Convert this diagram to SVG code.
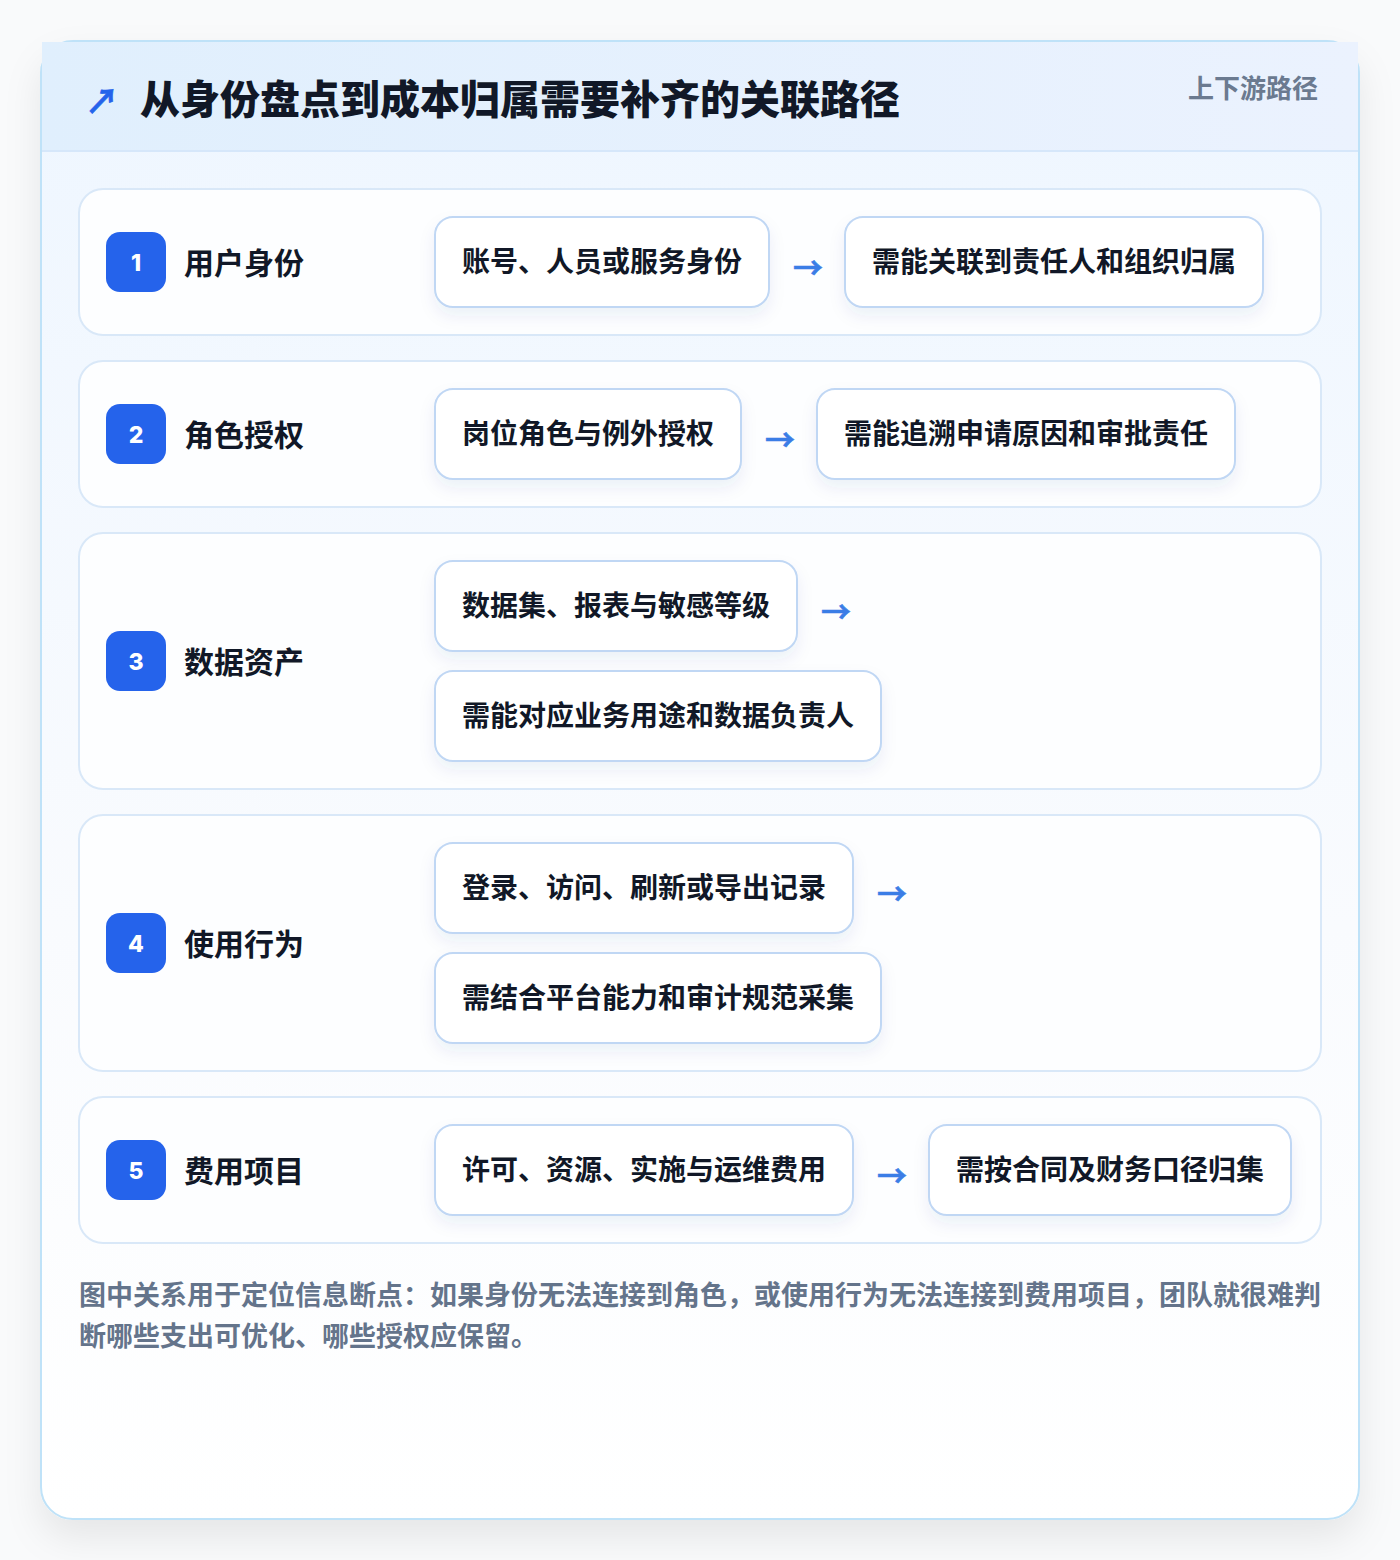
<svg xmlns="http://www.w3.org/2000/svg" width="1400" height="1560" viewBox="0 0 1400 1560">
<defs>
<linearGradient id="cardBg" x1="0" y1="0" x2="0" y2="1">
<stop offset="0" stop-color="#eef6ff"/>
<stop offset="0.6" stop-color="#f9fbfe"/>
<stop offset="1" stop-color="#ffffff"/>
</linearGradient>
<linearGradient id="headBg" x1="0" y1="0" x2="1" y2="0">
<stop offset="0" stop-color="#e0effd"/>
<stop offset="1" stop-color="#ebf2fe"/>
</linearGradient>
<filter id="cardShadow" x="-10%" y="-10%" width="120%" height="125%">
<feDropShadow dx="0" dy="18" stdDeviation="18" flood-color="#0f172a" flood-opacity="0.08"/>
</filter>
<filter id="boxShadow" x="-10%" y="-20%" width="120%" height="160%">
<feDropShadow dx="0" dy="8" stdDeviation="8" flood-color="#1e3a8a" flood-opacity="0.07"/>
</filter>
<style>
text{font-family:"Noto Sans CJK SC","Noto Sans",sans-serif;font-weight:700}
.title{font-size:40px;fill:#111827;font-weight:800}
.tag{font-size:26px;fill:#6b7a90}
.row{fill:#fdfeff;stroke:#d9e8f8;stroke-width:2}
.badge{fill:#2563eb}
.num{font-family:Inter,"Noto Sans",sans-serif;font-size:23px;fill:#ffffff;font-weight:800;text-anchor:middle}
.lbl{font-size:30px;fill:#111827}
.box{fill:#ffffff;stroke:#c0d7f4;stroke-width:2;filter:url(#boxShadow)}
.bt{font-size:28px;fill:#111827}
.arr{font-size:30px;fill:#3b7de6;text-anchor:middle;font-weight:700;stroke:#3b7de6;stroke-width:0.6}
.foot{font-size:27px;fill:#64748b}
</style>
</defs>
<rect x="0" y="0" width="1400" height="1560" fill="#f9fafb"/>
<g id="card">
<rect x="41" y="41" width="1318" height="1478" rx="32" fill="url(#cardBg)" stroke="#bfe2f8" stroke-width="2" filter="url(#cardShadow)"/>
<rect x="42" y="42" width="1316" height="109" fill="url(#headBg)"/>
<line x1="42" y1="151" x2="1358" y2="151" stroke="#d6e7fa" stroke-width="2"/>
<text x="102" y="114" font-size="34" fill="#2563eb" stroke="#2563eb" stroke-width="0.6" text-anchor="middle" style="font-weight:700">↗</text>
<text class="title" x="140" y="114">从身份盘点到成本归属需要补齐的关联路径</text>
<text class="tag" x="1318" y="98" text-anchor="end">上下游路径</text>
</g>
<g id="row1">
<rect class="row" x="79" y="189" width="1242" height="146" rx="24"/>
<rect class="badge" x="106" y="232" width="60" height="60" rx="14"/>
<text class="num" x="136" y="271">1</text>
<text class="lbl" x="184" y="274">用户身份</text>
</g>
<g id="row1-a"><rect class="box" x="435" y="217" width="334" height="90" rx="18"/><text class="bt" x="462" y="272">账号、人员或服务身份</text></g>
<g id="row1-b"><rect class="box" x="845" y="217" width="418" height="90" rx="18"/><text class="bt" x="872" y="272">需能关联到责任人和组织归属</text></g>
<g id="row2">
<rect class="row" x="79" y="361" width="1242" height="146" rx="24"/>
<rect class="badge" x="106" y="404" width="60" height="60" rx="14"/>
<text class="num" x="136" y="443">2</text>
<text class="lbl" x="184" y="446">角色授权</text>
</g>
<g id="row2-a"><rect class="box" x="435" y="389" width="306" height="90" rx="18"/><text class="bt" x="462" y="444">岗位角色与例外授权</text></g>
<g id="row2-b"><rect class="box" x="817" y="389" width="418" height="90" rx="18"/><text class="bt" x="844" y="444">需能追溯申请原因和审批责任</text></g>
<g id="row3">
<rect class="row" x="79" y="533" width="1242" height="256" rx="24"/>
<rect class="badge" x="106" y="631" width="60" height="60" rx="14"/>
<text class="num" x="136" y="670">3</text>
<text class="lbl" x="184" y="673">数据资产</text>
</g>
<g id="row3-a"><rect class="box" x="435" y="561" width="362" height="90" rx="18"/><text class="bt" x="462" y="616">数据集、报表与敏感等级</text></g>
<g id="row3-b"><rect class="box" x="435" y="671" width="446" height="90" rx="18"/><text class="bt" x="462" y="726">需能对应业务用途和数据负责人</text></g>
<g id="row4">
<rect class="row" x="79" y="815" width="1242" height="256" rx="24"/>
<rect class="badge" x="106" y="913" width="60" height="60" rx="14"/>
<text class="num" x="136" y="952">4</text>
<text class="lbl" x="184" y="955">使用行为</text>
</g>
<g id="row4-a"><rect class="box" x="435" y="843" width="418" height="90" rx="18"/><text class="bt" x="462" y="898">登录、访问、刷新或导出记录</text></g>
<g id="row4-b"><rect class="box" x="435" y="953" width="446" height="90" rx="18"/><text class="bt" x="462" y="1008">需结合平台能力和审计规范采集</text></g>
<g id="row5">
<rect class="row" x="79" y="1097" width="1242" height="146" rx="24"/>
<rect class="badge" x="106" y="1140" width="60" height="60" rx="14"/>
<text class="num" x="136" y="1179">5</text>
<text class="lbl" x="184" y="1182">费用项目</text>
</g>
<g id="row5-a"><rect class="box" x="435" y="1125" width="418" height="90" rx="18"/><text class="bt" x="462" y="1180">许可、资源、实施与运维费用</text></g>
<g id="row5-b"><rect class="box" x="929" y="1125" width="362" height="90" rx="18"/><text class="bt" x="956" y="1180">需按合同及财务口径归集</text></g>
<g id="connectors">
<text class="arr" x="808" y="279">→</text>
<text class="arr" x="780" y="451">→</text>
<text class="arr" x="836" y="623">→</text>
<text class="arr" x="892" y="905">→</text>
<text class="arr" x="892" y="1187">→</text>
</g>
<g id="footer">
<text class="foot" x="79" y="1305">图中关系用于定位信息断点：如果身份无法连接到角色，或使用行为无法连接到费用项目，团队就很难判</text>
<text class="foot" x="79" y="1346">断哪些支出可优化、哪些授权应保留。</text>
</g>
</svg>
